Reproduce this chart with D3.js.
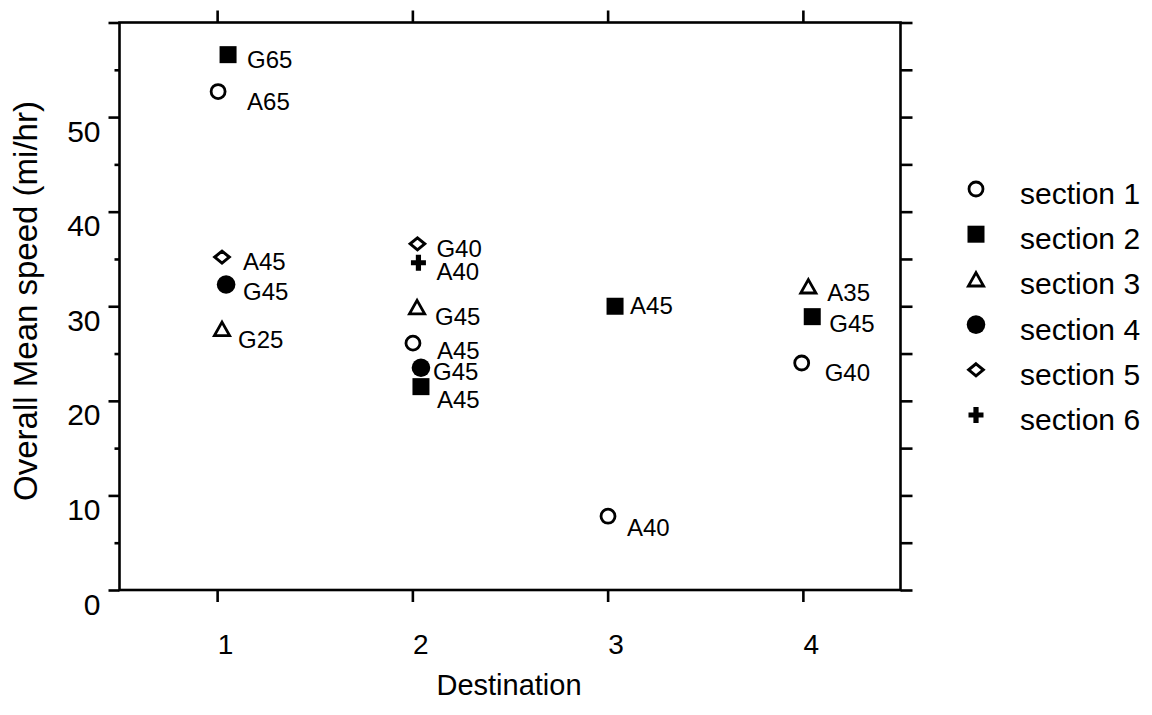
<!DOCTYPE html>
<html>
<head>
<meta charset="utf-8">
<script src="https://cdn.jsdelivr.net/npm/d3@7"></script>
<style>
  html, body { margin: 0; padding: 0; background: #fff; }
  svg { display: block; }
  text { font-family: "Liberation Sans", Arial, Helvetica, sans-serif; fill: #000; }
</style>
</head>
<body>
<svg id="chart" width="1152" height="715"></svg>
<script>
// ---------------- data ----------------
const destinations = [1, 2, 3, 4];
const yTickValues = [0, 10, 20, 30, 40, 50];
const sectionNames = ["section 1", "section 2", "section 3", "section 4", "section 5", "section 6"];
// one entry per plotted point
const pointSection = [2, 1, 5, 4, 3,   5, 6, 3, 1, 4, 2,   2, 1,   3, 2, 1];
const pointDest    = [1.056, 1.005, 1.025, 1.046, 1.025,
                      2.026, 2.031, 2.024, 2.003, 2.044, 2.044,
                      3.038, 3.002,
                      4.028, 4.048, 3.994];
const pointSpeed   = [56.6, 52.7, 35.2, 32.3, 27.6,
                      36.6, 34.6, 29.9, 26.1, 23.5, 21.5,
                      30.0, 7.8,
                      32.1, 28.9, 24.0];
const pointLabel   = ["G65", "A65", "A45", "G45", "G25",
                      "G40", "A40", "G45", "A45", "G45", "A45",
                      "A45", "A40",
                      "A35", "G45", "G40"];
// annotation layout: label nudge from its marker (px)
const labelNudge = [[19,13],[29,18],[21,13],[17,16],[16,19],
                    [19,13],[18,17],[18,18],[24,16],[12,12],[16,21],
                    [15,8],[19,20],
                    [19,15],[17,15],[23,18]];

// ---------------- layout ----------------
const svg = d3.select("#chart");
svg.append("rect").attr("width", 1152).attr("height", 715).attr("fill", "#fff");

const plotL = 119.5, plotR = 900.5, plotT = 22.5, plotB = 590;
const x = d3.scaleLinear().domain([0.5, 4.5]).range([plotL, plotR]);
const y = d3.scaleLinear().domain([0, 60]).range([plotB, plotT]);

const axisW = 2.6;

// marker shapes keyed by section number
function drawMarker(g, sec) {
  switch (sec) {
    case 1: g.append("circle").attr("r", 7).attr("fill", "#fff").attr("stroke", "#000").attr("stroke-width", 2.8); break;
    case 2: g.append("rect").attr("x", -8.5).attr("y", -8.5).attr("width", 17).attr("height", 17).attr("fill", "#000"); break;
    case 3: g.append("path").attr("d", "M0,-6.8L7.6,6.6L-7.6,6.6Z").attr("fill", "#fff").attr("stroke", "#000").attr("stroke-width", 2.8).attr("stroke-linejoin", "miter"); break;
    case 4: g.append("circle").attr("r", 9.3).attr("fill", "#000"); break;
    case 5: g.append("path").attr("d", "M0,-6L7.3,0L0,6L-7.3,0Z").attr("fill", "#fff").attr("stroke", "#000").attr("stroke-width", 3).attr("stroke-linejoin", "miter"); break;
    case 6: g.append("path").attr("d", "M-2.6,-8L2.6,-8L2.6,-2.6L7.5,-2.6L7.5,2.6L2.6,2.6L2.6,8L-2.6,8L-2.6,2.6L-7.5,2.6L-7.5,-2.6L-2.6,-2.6Z").attr("fill", "#000"); break;
  }
}

// ---------------- axes ----------------
const yMajor = d3.range(0, 61, 10);
const yMinor = d3.range(5, 60, 10);
const yAll = d3.range(0, 61, 5);

// left axis (major ticks labeled)
const leftAxis = d3.axisLeft(y).tickValues(yMajor).tickSize(11).tickSizeOuter(0)
  .tickFormat(d => yTickValues.includes(d) ? d : "");
const gl = svg.append("g").attr("transform", `translate(${plotL},0)`).call(leftAxis);
gl.selectAll("text").attr("font-size", 30).attr("dy", null)
  .attr("x", -19).attr("y", 24);
// minor left ticks
svg.append("g").attr("transform", `translate(${plotL},0)`)
  .call(d3.axisLeft(y).tickValues(yMinor).tickSize(5).tickSizeOuter(0).tickFormat(""));

// right axis
svg.append("g").attr("transform", `translate(${plotR},0)`)
  .call(d3.axisRight(y).tickValues(yAll).tickSize(12).tickSizeOuter(0).tickFormat(""));

// bottom axis
const gb = svg.append("g").attr("transform", `translate(0,${plotB})`)
  .call(d3.axisBottom(x).tickValues(destinations).tickSize(12).tickSizeOuter(0).tickFormat(d3.format("d")));
gb.selectAll("text").attr("font-size", 28).attr("dy", null).attr("y", 64).attr("dx", 8);

// top axis
svg.append("g").attr("transform", `translate(0,${plotT})`)
  .call(d3.axisTop(x).tickValues(destinations).tickSize(12).tickSizeOuter(0).tickFormat(""));

svg.selectAll(".domain").attr("stroke", "none");
svg.selectAll(".tick line").attr("stroke", "#000").attr("stroke-width", axisW);
svg.selectAll(".tick text").attr("fill", "#000").attr("font-family", "'Liberation Sans', Arial, sans-serif");

// frame
svg.append("rect").attr("x", plotL).attr("y", plotT).attr("width", plotR - plotL).attr("height", plotB - plotT)
  .attr("fill", "none").attr("stroke", "#000").attr("stroke-width", axisW);

// axis titles
svg.append("text").attr("x", 509).attr("y", 695).attr("text-anchor", "middle").attr("font-size", 29).text("Destination");
svg.append("text").attr("transform", "translate(37,301) rotate(-90)").attr("text-anchor", "middle")
  .attr("font-size", 33).text("Overall Mean speed (mi/hr)");

// ---------------- points ----------------
const pts = pointDest.map((d, i) => ({ dest: d, speed: pointSpeed[i], sec: pointSection[i], label: pointLabel[i], nudge: labelNudge[i] }));
const pg = svg.append("g");
pts.forEach(p => {
  const g = pg.append("g").attr("transform", `translate(${x(p.dest)},${y(p.speed)})`);
  drawMarker(g, p.sec);
  g.append("text").attr("x", p.nudge[0]).attr("y", p.nudge[1]).attr("font-size", 24).text(p.label);
});

// ---------------- legend ----------------
const lg = svg.append("g");
sectionNames.forEach((name, i) => {
  const base = 204 + i * 45.2;
  const m = lg.append("g").attr("transform", `translate(976,${base - 15})`);
  drawMarker(m, i + 1);
  lg.append("text").attr("x", 1020).attr("y", base).attr("font-size", 30).text(name);
});
</script>
</body>
</html>
